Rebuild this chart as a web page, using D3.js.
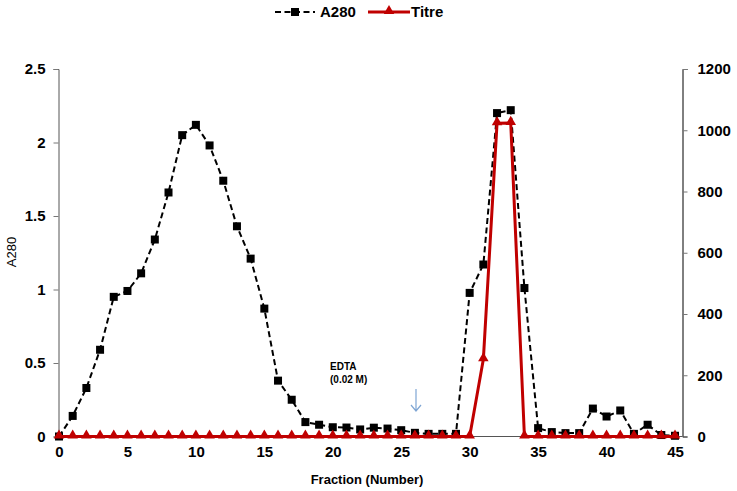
<!DOCTYPE html>
<html>
<head>
<meta charset="utf-8">
<script src="https://cdn.jsdelivr.net/npm/d3@7"></script>
<style>
  body { margin: 0; background: #fff; }
  svg { font-family: Arial, "Liberation Sans", sans-serif; }
</style>
</head>
<body>
<svg width="737" height="491"></svg>
<script>
// fraction numbers 0..45
const fractions = d3.range(0, 46)
const a280 = [0, 0.14, 0.33, 0.59, 0.95, 0.99, 1.11, 1.34, 1.66, 2.05,
  2.12, 1.98, 1.74, 1.43, 1.21, 0.87, 0.38, 0.25, 0.098, 0.08,
  0.063, 0.061, 0.048, 0.06, 0.054, 0.043, 0.025, 0.018, 0.018, 0.018,
  0.977, 1.17, 2.2, 2.22, 1.01, 0.057, 0.03, 0.023, 0.023, 0.19,
  0.136, 0.177, 0.018, 0.08, 0.01, 0.005]
const titre = [0, 0, 0, 0, 0, 0, 0, 0, 0, 0,
  0, 0, 0, 0, 0, 0, 0, 0, 0, 0,
  0, 0, 0, 0, 0, 0, 0, 0, 0, 0,
  0, 252, 1023, 1024, 0, 0, 0, 0, 0, 0,
  0, 0, 0, 0, 0, 0]
const xTicks = [0, 5, 10, 15, 20, 25, 30, 35, 40, 45]
const leftTicks = [0, 0.5, 1, 1.5, 2, 2.5]
const rightTicks = [0, 200, 400, 600, 800, 1000, 1200]

const svg = d3.select('svg')
const plotL = 58.5, plotR = 682.5, plotT = 69, plotB = 436.5

const x = d3.scaleLinear().domain([0, 45]).range([59, 675])
const yL = d3.scaleLinear().domain([0, 2.5]).range([plotB, plotT])
const yR = d3.scaleLinear().domain([0, 1200]).range([plotB, plotT])

// axes
const axL = svg.append('g').attr('transform', `translate(${plotL},0)`)
  .call(d3.axisLeft(yL).tickValues(leftTicks).tickSize(5).tickPadding(8).tickFormat(d3.format('')))
const axR = svg.append('g').attr('transform', `translate(${plotR},0)`)
  .call(d3.axisRight(yR).tickValues(rightTicks).tickSize(5).tickPadding(10).tickFormat(d3.format('d')))
const axB = svg.append('g').attr('transform', `translate(0,${plotB})`)
  .call(d3.axisBottom(x).tickValues(xTicks).tickSize(0).tickPadding(10))
axB.select('.domain').attr('d', `M${plotL},0H${plotR}`)

;[axL, axR, axB].forEach(g => {
  g.select('.domain').attr('stroke', '#555').attr('stroke-width', 1)
  g.selectAll('.tick line').attr('stroke', '#777')
  g.selectAll('text').attr('font-size', 15).attr('font-weight', 'bold')
    .attr('font-family', 'Arial, "Liberation Sans", sans-serif').attr('fill', '#000')
})
axR.select('.domain').attr('stroke', '#000')

// titles
svg.append('text').attr('transform', 'translate(16,252) rotate(-90)')
  .attr('text-anchor', 'middle').attr('font-size', 13).text('A280')
svg.append('text').attr('x', 367).attr('y', 484).attr('text-anchor', 'middle')
  .attr('font-size', 13).attr('font-weight', 'bold').text('Fraction (Number)')

// annotation
svg.append('text').attr('x', 330).attr('y', 370).attr('font-size', 10)
  .attr('font-weight', 'bold').text('EDTA')
svg.append('text').attr('x', 330).attr('y', 383).attr('font-size', 10)
  .attr('font-weight', 'bold').text('(0.02 M)')
svg.append('path').attr('d', 'M416,389V411M411,405L416,411L421,405')
  .attr('fill', 'none').attr('stroke', '#7fa6d4').attr('stroke-width', 1.2)

// A280 series
const lineA = d3.line().x((d, i) => x(fractions[i])).y(d => yL(d))
svg.append('path').datum(a280).attr('d', lineA).attr('fill', 'none')
  .attr('stroke', '#000').attr('stroke-width', 2).attr('stroke-dasharray', '6,3.5')
svg.selectAll('.sq').data(a280).join('rect').attr('class', 'sq')
  .attr('x', (d, i) => x(fractions[i]) - 4).attr('y', d => yL(d) - 4)
  .attr('width', 8).attr('height', 8).attr('fill', '#000')

// Titre series
const lineT = d3.line().x((d, i) => x(fractions[i])).y(d => yR(d))
svg.append('path').datum(titre).attr('d', lineT).attr('fill', 'none')
  .attr('stroke', '#c00000').attr('stroke-width', 3).attr('stroke-linejoin', 'round')
const tri = d3.symbol().type(d3.symbolTriangle).size(48)
svg.selectAll('.tri').data(titre).join('path').attr('class', 'tri')
  .attr('transform', (d, i) => `translate(${x(fractions[i])},${yR(d) - 1})`)
  .attr('d', tri).attr('fill', '#c00000')

// legend
const lg = svg.append('g')
lg.append('line').attr('x1', 275).attr('x2', 315).attr('y1', 12).attr('y2', 12)
  .attr('stroke', '#000').attr('stroke-width', 2).attr('stroke-dasharray', '6,3.5')
lg.append('rect').attr('x', 291).attr('y', 8).attr('width', 8).attr('height', 8)
lg.append('text').attr('x', 320).attr('y', 17).attr('font-size', 15)
  .attr('font-weight', 'bold').text('A280')
lg.append('line').attr('x1', 368).attr('x2', 410).attr('y1', 12).attr('y2', 12)
  .attr('stroke', '#c00000').attr('stroke-width', 3)
lg.append('path').attr('transform', 'translate(389,11)').attr('d', tri).attr('fill', '#c00000')
lg.append('text').attr('x', 411).attr('y', 17).attr('font-size', 15)
  .attr('font-weight', 'bold').text('Titre')
</script>
</body>
</html>
